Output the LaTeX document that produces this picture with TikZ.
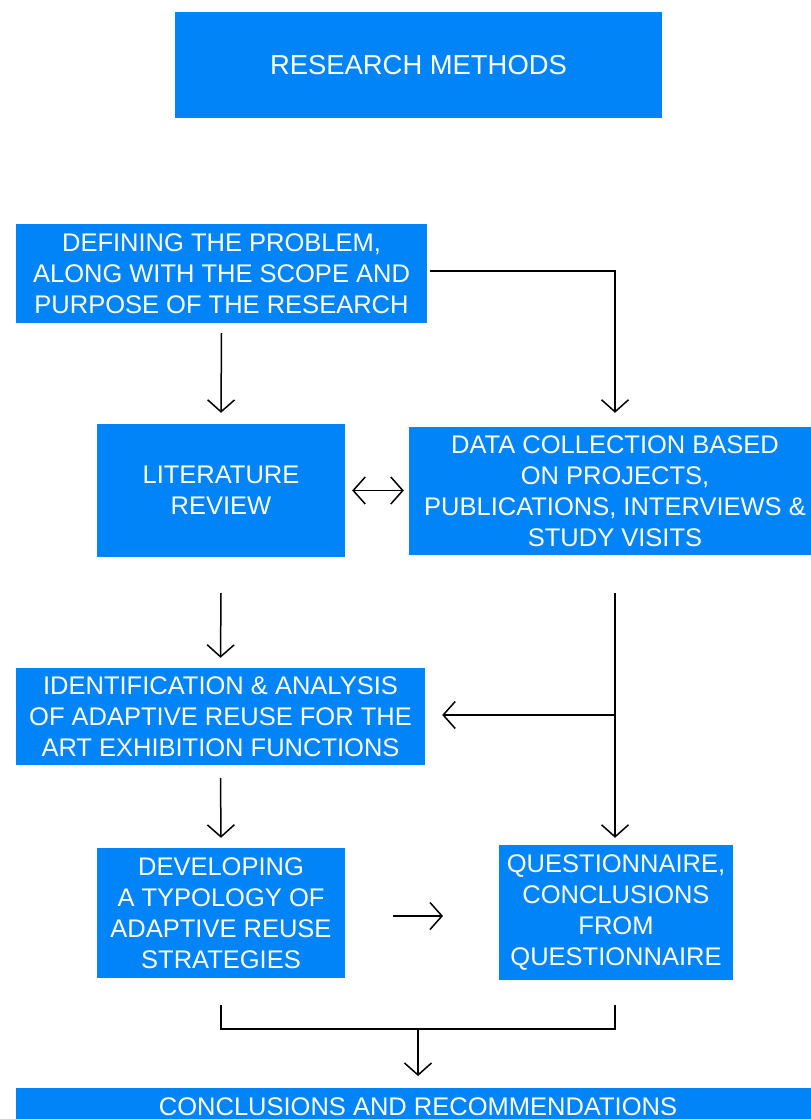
\documentclass[tikz,border=0pt]{standalone}
\usepackage{fontspec}
\setmainfont{Liberation Sans}
\usetikzlibrary{arrows.meta}
\definecolor{boxblue}{RGB}{0,132,248}
\tikzset{
  box/.style={fill=boxblue, text=white, draw=none, inner sep=0pt, align=center,
    font=\fontsize{25.5}{31}\selectfont},
  conn/.style={draw=black, line width=1.5pt},
  arr/.style={conn, -{Straight Barb[length=12pt,width=27pt,line width=1.5pt]}},
  darr/.style={conn, {Straight Barb[length=12pt,width=27pt,line width=1.5pt]}-{Straight Barb[length=12pt,width=27pt,line width=1.5pt]}}
}
\begin{document}
\begin{tikzpicture}[x=1pt,y=-1pt]
\useasboundingbox (0,0) rectangle (811,1119);
\node[box, minimum width=487pt, minimum height=106pt, font=\fontsize{27.4}{33}\selectfont] (title) at (418.5,65) {RESEARCH METHODS};
\node[box, minimum width=411pt, minimum height=99pt] (def) at (221.5,273.5) {DEFINING THE PROBLEM,\\ALONG WITH THE SCOPE AND\\PURPOSE OF THE RESEARCH};
\node[box, minimum width=248pt, minimum height=133pt] (lit) at (221,490.5) {LITERATURE\\REVIEW};
\node[box, minimum width=412pt, minimum height=128pt] (data) at (615,491) {DATA COLLECTION BASED\\ON PROJECTS,\\PUBLICATIONS, INTERVIEWS \&\\STUDY VISITS};
\node[box, minimum width=409pt, minimum height=97pt] (ident) at (220.5,716.5) {IDENTIFICATION \& ANALYSIS\\OF ADAPTIVE REUSE FOR THE\\ART EXHIBITION FUNCTIONS};
\node[box, minimum width=248pt, minimum height=130pt] (dev) at (221,913) {DEVELOPING\\ A TYPOLOGY OF\\ADAPTIVE REUSE\\STRATEGIES};
\node[box, minimum width=234pt, minimum height=135pt] (quest) at (616,912.5) {QUESTIONNAIRE,\\CONCLUSIONS\\FROM\\QUESTIONNAIRE};
\node[box, minimum width=804pt, minimum height=62pt, anchor=north west] (concl) at (16,1088) {};
\node[text=white, font=\fontsize{25.5}{31}\selectfont, inner sep=0pt] (conclt) at (418,1107) {CONCLUSIONS AND RECOMMENDATIONS};

% connectors
\draw[arr] ([yshift=-10pt]def.south) -- ([yshift=11pt]lit.north);
\coordinate (dcorner) at (615,271);
\draw[arr] ([xshift=3pt]def.east |- dcorner) -- (dcorner) -- ([yshift=14pt]data.north -| dcorner);
\draw[darr] ([xshift=7pt]lit.east) -- ([xshift=-5pt]lit.east -| data.west);
\draw[arr] ([yshift=-36pt]lit.south) -- ([yshift=10pt]ident.north);
\coordinate (dstart) at (615,593);
\draw[arr] (dstart) -- ([yshift=7pt]quest.north -| dstart);
\coordinate (branch) at (615,715);
\draw[arr] (branch) -- ([xshift=17pt]ident.east |- branch);
\draw[arr] ([yshift=-13pt]ident.south) -- ([yshift=10pt]dev.north);
\coordinate (h1) at (393,916);
\coordinate (h2) at (443,916);
\draw[arr] (h1) -- (h2);
\coordinate (bl) at (221,1005);
\coordinate (br) at (615,1005);
\coordinate (j) at (418,1029);
\draw[conn] (bl) -- (bl |- j) -- (br |- j) -- (br);
\draw[arr] (j) -- ([yshift=12pt]concl.north -| j);
\end{tikzpicture}
\end{document}
